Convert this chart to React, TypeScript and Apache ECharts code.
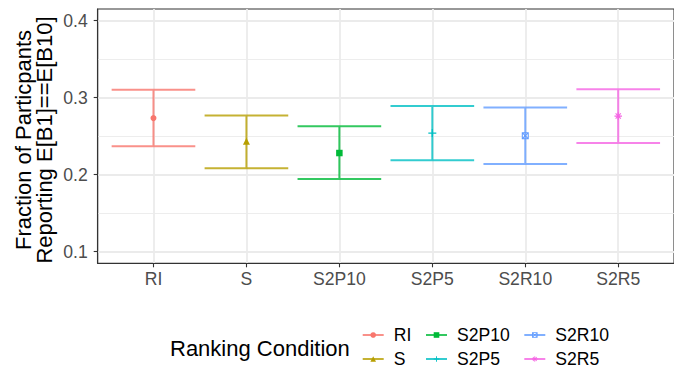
import React, { useEffect, useRef } from "react";
import * as echarts from "echarts";

// Ranking conditions and their estimated fraction with confidence bounds
const conditions = ["RI", "S", "S2P10", "S2P5", "S2R10", "S2R5"];
const means = [0.2734, 0.2433, 0.2281, 0.254, 0.2506, 0.276];
const lowers = [0.2368, 0.2083, 0.1944, 0.2187, 0.2139, 0.241];
const uppers = [0.3102, 0.2769, 0.2627, 0.289, 0.2873, 0.311];
const yTicks = [0.1, 0.2, 0.3, 0.4];
const yMinorTicks = [0.15, 0.25, 0.35];

const colors = ["#F8766D", "#B79F00", "#00BA38", "#00BFC4", "#619CFF", "#F564E3"];
const FONT = "'Liberation Sans', Arial, Helvetica, sans-serif";

// ggplot-like point shapes
const PLUS = "path://M4.2,0 H5.8 V4.2 H10 V5.8 H5.8 V10 H4.2 V5.8 H0 V4.2 H4.2 Z";
const SQUARE_CROSS =
  "path://M0,0 H10 V10 H0 Z M1.5,1.5 V8.5 H8.5 V1.5 Z " +
  "M1.5,1.5 L2.5,1.5 L8.5,7.5 L8.5,8.5 L7.5,8.5 L1.5,2.5 Z " +
  "M8.5,1.5 L8.5,2.5 L2.5,8.5 L1.5,8.5 L1.5,7.5 L7.5,1.5 Z";
const ASTERISK =
  "path://M0,4.3 H10 V5.7 H0 Z M4.3,0 H5.7 V10 H4.3 Z " +
  "M1,2 L2,1 L9,8 L8,9 Z M8,1 L9,2 L2,9 L1,8 Z";
const symbols = ["circle", "triangle", "rect", PLUS, SQUARE_CROSS, ASTERISK];
const symbolSizes = [6, 7, 6.5, 8, 7, 7.5];

const legendColumns = [
  [0, 1],
  [2, 3],
  [4, 5],
];
const legendLefts = [361.7, 425, 523.3];

export default function App() {
  const ref = useRef<HTMLDivElement>(null);

  useEffect(() => {
    if (!ref.current) return;
    const chart = echarts.init(ref.current, undefined, { renderer: "svg" });
    const xTickValues = conditions.map((_, i) => i);

    const pointSeries = conditions.map((name, i) => ({
      type: "line",
      name,
      data: [[i, means[i]]],
      symbol: symbols[i],
      symbolSize: symbolSizes[i],
      showSymbol: true,
      itemStyle: { color: colors[i], opacity: 1 },
      lineStyle: { color: colors[i], width: 2, opacity: 0.8 },
      z: 5,
    }));

    const option: any = {
      animation: false,
      backgroundColor: "#ffffff",
      grid: {
        left: 97.7,
        top: 9,
        width: 585,
        height: 254.3,
        show: true,
        borderColor: "#333333",
        borderWidth: 1.1,
        backgroundColor: "transparent",
        containLabel: false,
      },
      xAxis: {
        type: "value",
        min: -0.6,
        max: 5.6,
        axisLine: { show: true, onZero: false, lineStyle: { color: "#333333", width: 1.1 } },
        axisTick: {
          show: true,
          customValues: xTickValues,
          length: 4,
          lineStyle: { color: "#333333", width: 1.1 },
        },
        axisLabel: {
          customValues: xTickValues,
          formatter: (v: number) => conditions[Math.round(v)] ?? "",
          color: "#4D4D4D",
          fontSize: 17.6,
          fontFamily: FONT,
          margin: 7,
        },
        splitLine: { show: true, lineStyle: { color: "#EBEBEB", width: 1.8 } },
      },
      yAxis: [
        {
          type: "value",
          min: 0.085,
          max: 0.415,
          axisLine: { show: true, onZero: false, lineStyle: { color: "#333333", width: 1.1 } },
          axisTick: {
            show: true,
            customValues: yTicks,
            length: 4,
            lineStyle: { color: "#333333", width: 1.1 },
          },
          axisLabel: {
            customValues: yTicks,
            formatter: (v: number) => v.toFixed(1),
            color: "#4D4D4D",
            fontSize: 17.6,
            fontFamily: FONT,
            margin: 10,
          },
          splitLine: { show: true, lineStyle: { color: "#EBEBEB", width: 1.8 } },
        },
        {
          type: "value",
          min: 0.085,
          max: 0.415,
          position: "left",
          axisLine: { show: false },
          axisTick: { show: false, customValues: yMinorTicks },
          axisLabel: { show: false },
          splitLine: { show: true, lineStyle: { color: "#EBEBEB", width: 0.9 } },
        },
      ],
      legend: legendColumns.map((col, k) => ({
        orient: "vertical",
        left: legendLefts[k],
        top: 323,
        height: 80,
        padding: 0,
        itemGap: 0,
        itemWidth: 21,
        itemHeight: 7,
        selectedMode: false,
        data: col.map((i) => conditions[i]),
        textStyle: {
          fontSize: 17.6,
          color: "#000000",
          fontFamily: FONT,
          lineHeight: 24,
          padding: [0, 0, 0, 5],
        },
      })),
      graphic: [
        {
          type: "text",
          x: 34,
          y: 140,
          rotation: Math.PI / 2,
          style: {
            text: "Fraction of Particpants\nReporting E[B1]==E[B10]",
            fontSize: 22,
            lineHeight: 21,
            fontFamily: FONT,
            fill: "#000000",
            align: "center",
            verticalAlign: "middle",
          },
        },
        {
          type: "text",
          x: 170,
          y: 348,
          style: {
            text: "Ranking Condition",
            fontSize: 22,
            fontFamily: FONT,
            fill: "#000000",
            align: "left",
            verticalAlign: "middle",
          },
        },
      ],
      series: [
        ...pointSeries,
        {
          type: "custom",
          name: "interval",
          data: conditions.map((_, i) => [i, lowers[i], uppers[i]]),
          encode: { x: 0, y: [1, 2] },
          z: 4,
          renderItem: (params: any, api: any) => {
            const i = api.value(0);
            const lo = api.value(1);
            const hi = api.value(2);
            const top = api.coord([i, hi]);
            const bot = api.coord([i, lo]);
            const l = api.coord([i - 0.45, hi])[0];
            const r = api.coord([i + 0.45, hi])[0];
            return {
              type: "polyline",
              shape: {
                points: [
                  [l, top[1]],
                  [r, top[1]],
                  [top[0], top[1]],
                  [bot[0], bot[1]],
                  [l, bot[1]],
                  [r, bot[1]],
                ],
              },
              style: {
                stroke: colors[params.dataIndex],
                lineWidth: 2,
                fill: "none",
                opacity: 0.8,
              },
            };
          },
        },
      ],
    };

    chart.setOption(option);
    return () => chart.dispose();
  }, []);

  return (
    <div
      ref={ref}
      style={{ position: "fixed", left: 0, top: 0, width: 674, height: 370, background: "#fff" }}
    />
  );
}
